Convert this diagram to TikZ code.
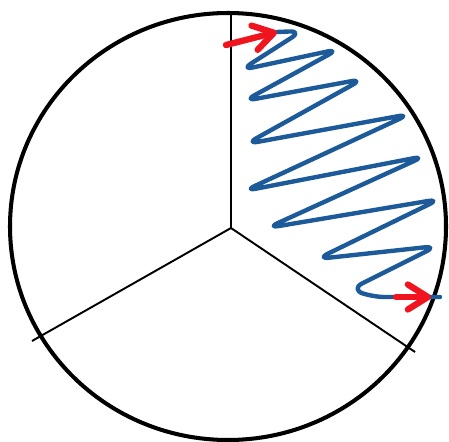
\documentclass[tikz,border=0pt]{standalone}
\usetikzlibrary{arrows.meta}
\definecolor{wavecol}{HTML}{1D5A9A}
\definecolor{pointercol}{HTML}{F0141E}

\begin{document}
\begin{tikzpicture}[
  x=0.02cm, y=-0.02cm,
  rim/.style={line width=2.3pt},
  spoke/.style={line width=1.1pt},
  wave/.style={draw=wavecol, line width=2.5pt, rounded corners=7pt, line join=round, line cap=round},
  pointer/.style={draw=pointercol, line width=3.6pt, line cap=round,
    -{Straight Barb[length=4mm, width=5mm, round]}},
]
  \useasboundingbox (0,0) rectangle (449,442);

  % hub and the ends of the three spokes
  \coordinate (hub) at (231,228);
  \coordinate (top) at (231,13);
  \coordinate (sw) at (32,341);
  \coordinate (se) at (415,352);

  \draw[rim] (228,226.5) ellipse [x radius=218, y radius=213.5];
  \draw[spoke] (hub) -- (top);
  \draw[spoke] (hub) -- (sw);
  \draw[spoke] (hub) -- (se);

  % zigzag in the right sector
  \coordinate (wstart) at (277,32);
  \coordinate (wend) at (440,297);
  \draw[wave] (wstart) -- (302,31) -- (241,70) -- (339,49) -- (244,101)
    -- (363,79) -- (246,144) -- (410,114) -- (244,191) -- (425,156)
    -- (267,228) -- (440,199) -- (317,259) -- (437,246) -- (351,289)
    -- (372,297) -- (wend);

  % in and out
  \coordinate (in0) at (226,45);
  \coordinate (out0) at (396,297);
  \coordinate (out1) at (431,297);
  \draw[pointer] (in0) -- (wstart);
  \draw[pointer] (out0) -- (out1);
\end{tikzpicture}
\end{document}
